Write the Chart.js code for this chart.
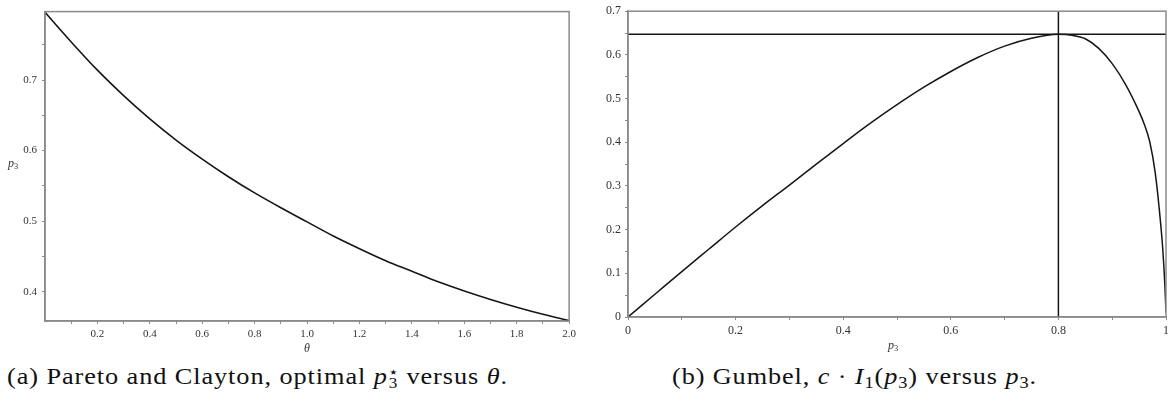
<!DOCTYPE html>
<html>
<head>
<meta charset="utf-8">
<script src="https://cdn.jsdelivr.net/npm/chart.js@4.4.1/dist/chart.umd.min.js"></script>
<style>
  body { margin: 0; background: #fff; width: 1175px; height: 407px; overflow: hidden; position: relative;
         font-family: 'Liberation Serif', 'Times New Roman', Tinos, 'DejaVu Serif', serif; }
  canvas { position: absolute; top: 0; }
  #chartA { left: 0; }
  #chartB { left: 585px; }
  .lbl { position: absolute; font-size: 12px; color: #333; line-height: 1; white-space: nowrap; }
  .cap { position: absolute; font-size: 23px; letter-spacing: 0.8px; color: #111; line-height: 1; white-space: nowrap; transform-origin: left top; }
  sub { font-size: 70%; vertical-align: -0.25em; line-height: 0; }
  .ss { display: inline-block; vertical-align: -0.3em; line-height: 0.8; font-size: 65%; text-align: center; }
</style>
</head>
<body>
<canvas id="chartA" width="580" height="360"></canvas>
<canvas id="chartB" width="590" height="360"></canvas>

<div class="lbl" style="left:8px; top:157px;"><i>p</i><sub>3</sub></div>
<div class="lbl" style="left:304px; top:342px;"><i>θ</i></div>
<div class="lbl" style="left:888px; top:339px;"><i>p</i><sub>3</sub></div>

<div class="cap" id="capA" data-w="501" style="left:7px; top:365px;">(a) Pareto and Clayton, optimal <i>p</i><span class="ss">⋆<br>3</span> versus <i>θ</i>.</div>
<div class="cap" id="capB" data-w="365" style="left:672px; top:365px;">(b) Gumbel, <i>c</i> · <i>I</i><sub>1</sub>(<i>p</i><sub>3</sub>) versus <i>p</i><sub>3</sub>.</div>

<script>
// (a) optimal p3 against theta
const thetaValues = [0, 0.1, 0.2, 0.3, 0.4, 0.5, 0.6, 0.7, 0.8, 0.9, 1.0,
                     1.1, 1.2, 1.3, 1.4, 1.5, 1.6, 1.7, 1.8, 1.9, 2.0];
const p3Optimal = [0.796, 0.754, 0.714, 0.678, 0.645, 0.615, 0.588, 0.563, 0.540, 0.519, 0.499,
                   0.479, 0.461, 0.444, 0.429, 0.414, 0.401, 0.389, 0.378, 0.368, 0.359];
const thetaTicks = [0.1, 0.2, 0.3, 0.4, 0.5, 0.6, 0.7, 0.8, 0.9, 1.0,
                    1.1, 1.2, 1.3, 1.4, 1.5, 1.6, 1.7, 1.8, 1.9, 2.0];
const p3TicksA = [0.4, 0.45, 0.5, 0.55, 0.6, 0.65, 0.7, 0.75];

// (b) Gumbel c*I1(p3) against p3
const p3Grid = [0, 0.05, 0.1, 0.15, 0.2, 0.25, 0.3, 0.35, 0.4, 0.45, 0.5, 0.55, 0.6, 0.65, 0.7, 0.75,
                0.8, 0.825, 0.85, 0.875, 0.9, 0.925, 0.95, 0.96, 0.97, 0.98, 0.99, 0.994, 0.998, 1.0];
const gumbelValues = [0, 0.052, 0.104, 0.155, 0.206, 0.255, 0.302, 0.350, 0.397, 0.443, 0.486, 0.526, 0.562, 0.594, 0.620, 0.638,
                      0.647, 0.645, 0.637, 0.615, 0.580, 0.532, 0.470, 0.440, 0.400, 0.330, 0.215, 0.155, 0.070, 0.010];
const peakX = 0.8;
const peakY = 0.647;
const xTicksB = [0, 0.1, 0.2, 0.3, 0.4, 0.5, 0.6, 0.7, 0.8, 0.9, 1.0];
const yTicksB = [0, 0.05, 0.1, 0.15, 0.2, 0.25, 0.3, 0.35, 0.4, 0.45, 0.5, 0.55, 0.6, 0.65, 0.7];

const axisGray = '#8a8a8a';
const lineBlack = '#161616';
const tickFont = "'Liberation Serif', 'Times New Roman', Tinos, 'DejaVu Serif', serif";

function isTenth(v) { return Math.abs(v * 10 - Math.round(v * 10)) < 1e-6; }
function isFifth(v) { return Math.abs(v * 5 - Math.round(v * 5)) < 1e-6; }

// grey box round the plot area
const frame = {
    id: 'frame',
    afterDraw(chart) {
        const a = chart.chartArea, c = chart.ctx;
        c.save();
        c.strokeStyle = axisGray;
        c.lineWidth = 1.5;
        c.strokeRect(a.left, a.top, a.right - a.left, a.bottom - a.top);
        c.restore();
    }
};

function axis(opts) {
    return {
        type: 'linear',
        min: opts.min,
        max: opts.max,
        afterBuildTicks: s => { s.ticks = opts.ticks.map(v => ({ value: v })); },
        afterFit: s => { if (opts.width) s.width = opts.width; if (opts.height) s.height = opts.height; },
        grid: { drawOnChartArea: false, tickLength: 3, tickColor: axisGray, tickWidth: 1 },
        border: { display: true, color: axisGray, width: 1.5 },
        ticks: {
            autoSkip: false, maxRotation: 0, padding: opts.padding,
            color: '#333',
            font: { family: tickFont, size: opts.size },
            callback: opts.label
        }
    };
}

new Chart(document.getElementById('chartA'), {
    type: 'scatter',
    data: {
        datasets: [{
            data: thetaValues.map((t, i) => ({ x: t, y: p3Optimal[i] })),
            showLine: true,
            borderColor: lineBlack,
            borderWidth: 1.6,
            pointRadius: 0,
            cubicInterpolationMode: 'monotone'
        }]
    },
    options: {
        responsive: false,
        animation: false,
        layout: { padding: { top: 4, right: 9, left: 0, bottom: 0 } },
        plugins: { legend: { display: false }, tooltip: { enabled: false } },
        scales: {
            x: axis({ min: 0, max: 2.0, ticks: thetaTicks, height: 39, padding: 4, size: 11,
                      label: v => isFifth(v) ? v.toFixed(1) : '' }),
            y: axis({ min: 0.3585, max: 0.797, ticks: p3TicksA, width: 45, padding: 5, size: 11,
                      label: v => isTenth(v) ? v.toFixed(1) : '' })
        }
    },
    plugins: [frame]
});

new Chart(document.getElementById('chartB'), {
    type: 'scatter',
    data: {
        datasets: [{
            data: p3Grid.map((p, i) => ({ x: p, y: gumbelValues[i] })),
            showLine: true,
            borderColor: lineBlack,
            borderWidth: 1.5,
            pointRadius: 0,
            cubicInterpolationMode: 'monotone'
        }, {
            data: [{ x: 0, y: peakY }, { x: 1, y: peakY }],
            showLine: true,
            borderColor: lineBlack,
            borderWidth: 1.5,
            pointRadius: 0
        }, {
            data: [{ x: peakX, y: 0 }, { x: peakX, y: 0.7 }],
            showLine: true,
            borderColor: lineBlack,
            borderWidth: 1.5,
            pointRadius: 0
        }]
    },
    options: {
        responsive: false,
        animation: false,
        layout: { padding: { top: 8, right: 9, left: 0, bottom: 0 } },
        plugins: { legend: { display: false }, tooltip: { enabled: false } },
        scales: {
            x: axis({ min: 0, max: 1, ticks: xTicksB, height: 43, padding: 4, size: 12,
                      label: v => isFifth(v) ? String(+v.toFixed(1)) : '' }),
            y: axis({ min: 0, max: 0.7, ticks: yTicksB, width: 43, padding: 4, size: 12,
                      label: v => isTenth(v) ? String(+v.toFixed(1)) : '' })
        }
    },
    plugins: [frame]
});

// stretch captions to the width they have in the reference
document.querySelectorAll('.cap').forEach(el => {
    const w = el.getBoundingClientRect().width;
    el.style.transform = 'scaleX(' + (+el.dataset.w / w) + ')';
});
</script>
</body>
</html>
